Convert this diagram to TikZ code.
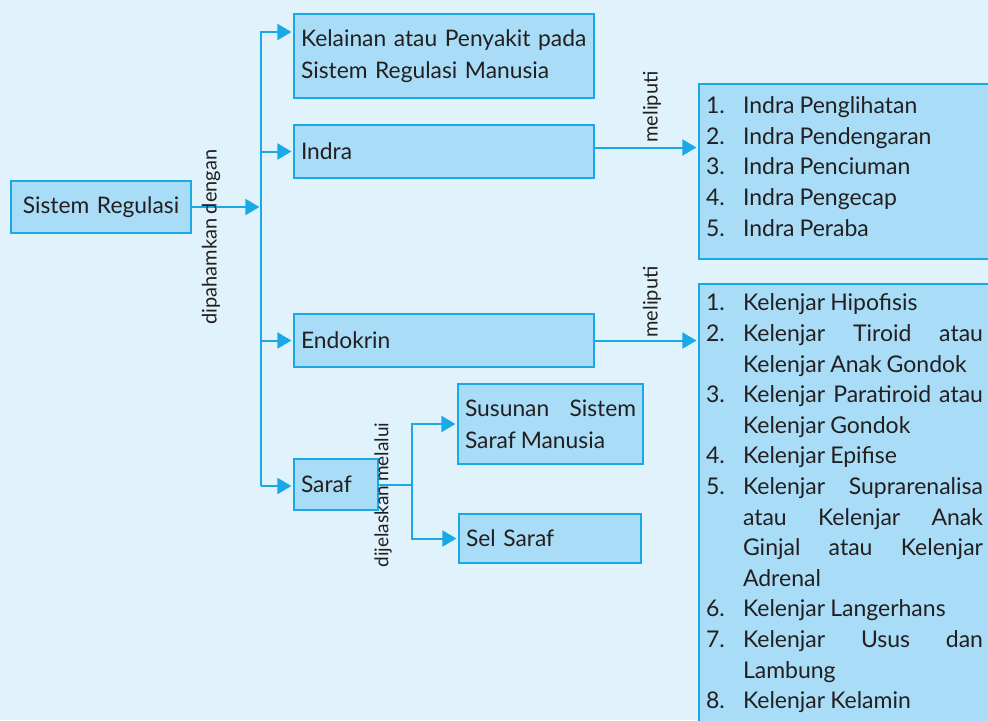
\documentclass[tikz,border=0pt]{standalone}
\usepackage{fontspec}
\setmainfont{Lato}[WordSpace=0.85]
\usepackage{xcolor}
\usetikzlibrary{arrows.meta, positioning}

\definecolor{bgblue}{HTML}{E0F2FC}
\definecolor{boxblue}{HTML}{A9DDF7}
\definecolor{lineblue}{HTML}{1AA9E6}
\definecolor{inkgray}{HTML}{231F20}

% numbered entry with hanging indent
\newcommand{\kitem}[2]{\noindent\hangindent=18.5pt\hangafter=1\makebox[18.5pt][l]{#1}#2\par}

\begin{document}
\begin{tikzpicture}[
    x=0.5pt, y=-0.5pt,
    box/.style={draw=lineblue, fill=boxblue, line width=1pt, anchor=north west,
                inner xsep=3.5pt, inner ysep=0pt, align=left, text=inkgray,
                font=\fontsize{11.4}{16}\selectfont},
    listbox/.style={box, align=justify, text width=138.5pt, inner ysep=5pt,
                font=\fontsize{11.5}{15.3}\selectfont},
    wire/.style={draw=lineblue, line width=1pt},
    link/.style={wire, shorten >=0.8pt, -{Triangle[length=7pt, width=8pt]}},
    lbl/.style={font=\fontsize{10}{11}\selectfont, rotate=90, text=inkgray, inner sep=0pt}
]
\fill[bgblue] (0,0) rectangle (988,720);
\useasboundingbox (0,0) rectangle (988,720);

\node[box, text width=83pt, minimum height=26pt, align=center] (regulasi) at (10,180) {Sistem Regulasi};
\node[box, text width=143pt, minimum height=42pt] (kelainan) at (293,13)
    {Kelainan atau Penyakit pada\\Sistem Regulasi Manusia};
\node[box, text width=143pt, minimum height=26.5pt] (indra) at (293,124) {Indra};
\node[box, text width=143pt, minimum height=26.5pt] (endokrin) at (293,313) {Endokrin};
\node[box, text width=35pt, minimum height=25.5pt] (saraf) at (293,458) {Saraf};
\node[box, text width=85.5pt, minimum height=40pt, align=justify] (susunan) at (457,383)
    {Susunan~~Sistem\linebreak Saraf Manusia};
\node[box, text width=84pt, minimum height=24.5pt] (selsaraf) at (458,513) {Sel Saraf};

\node[listbox, minimum height=87.5pt] (indralist) at (698,83) {%
  \kitem{1.}{Indra Penglihatan}
  \kitem{2.}{Indra Pendengaran}
  \kitem{3.}{Indra Penciuman}
  \kitem{4.}{Indra Pengecap}
  \kitem{5.}{Indra Peraba}
  \vspace{5pt}};
\node[listbox] (kelenjarlist) at (698,283) {%
  \kitem{1.}{Kelenjar Hipofisis}
  \kitem{2.}{Kelenjar~Tiroid~atau\linebreak Kelenjar~Anak~Gondok}
  \kitem{3.}{Kelenjar~Paratiroid~atau\linebreak Kelenjar~Gondok}
  \kitem{4.}{Kelenjar Epifise}
  \kitem{5.}{Kelenjar~Suprarenalisa\linebreak atau~Kelenjar~Anak\linebreak Ginjal~atau~Kelenjar\linebreak Adrenal}
  \kitem{6.}{Kelenjar Langerhans}
  \kitem{7.}{Kelenjar~Usus~dan\linebreak Lambung}
  \kitem{8.}{Kelenjar Kelamin}};

% hub line
\coordinate (hubtop) at (261,32);
\coordinate (hubbot) at (261,486);
\coordinate (fork) at (412,486);

\draw[link] (regulasi.east) -- (regulasi.east -| hubtop);
\draw[link] (hubbot) -- (hubtop) -- (hubtop -| kelainan.west);
\draw[link] (hubtop |- indra.west) -- (indra.west);
\draw[link] (hubtop |- endokrin.west) -- (endokrin.west);
\draw[link] (hubbot) -- (hubbot -| saraf.west);

\draw[link] ([yshift=2pt]indra.east) -- ([yshift=2pt]indra.east -| indralist.west);
\draw[link] (endokrin.east) -- (endokrin.east -| kelenjarlist.west);

\draw[wire] (saraf.east) -- (fork |- saraf.east);
\draw[link] (fork |- saraf.east) |- (susunan.west);
\draw[link] (fork |- saraf.east) |- (selsaraf.west);

\node[lbl] (dipahamkan) at (211,237) {dipahamkan dengan};
\node[lbl] (meliputi1) at (652,107) {meliputi};
\node[lbl] (meliputi2) at (652,302) {meliputi};
\node[lbl, font=\fontsize{9.5}{11}\selectfont] (dijelaskan) at (383,495) {dijelaskan melalui};

\end{tikzpicture}
\end{document}
